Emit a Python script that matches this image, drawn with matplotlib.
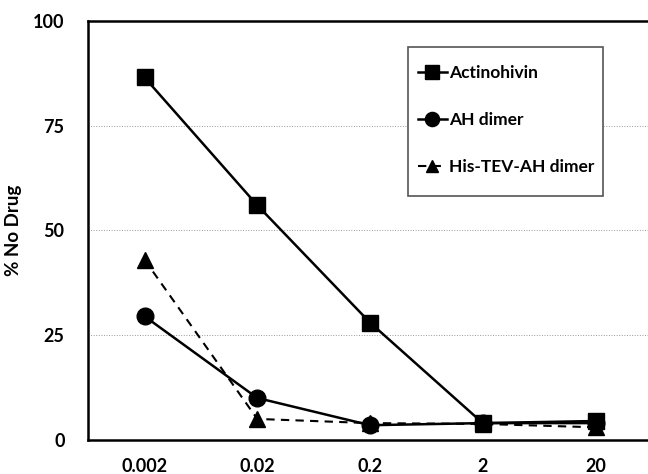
import matplotlib
matplotlib.use('Agg')
import matplotlib.pyplot as plt
from matplotlib.patches import Rectangle

plt.rcParams['font.family'] = ['Lato', 'DejaVu Sans']
plt.rcParams['font.weight'] = 'bold'

concs = ['0.002', '0.02', '0.2', '2', '20']
actinohivin = [86.5, 56, 28, 4, 4.5]
ah_dimer = [29.5, 10, 3.5, 4, 4]
his_tev = [43, 5, 4, 3.8, 3]

fig = plt.figure(figsize=(6.48, 4.74), dpi=100)
ax = fig.add_axes([0.136, 0.072, 0.87, 0.884])

x = list(range(len(concs)))
ax.plot(x, actinohivin, color='black', lw=1.8, marker='s', ms=12,
        label='Actinohivin', zorder=3)
ax.plot(x, ah_dimer, color='black', lw=1.8, marker='o', ms=12,
        label='AH dimer', zorder=3)
ax.plot(x, his_tev, color='black', lw=1.5, ls=(0, (4, 3)), marker='^', ms=11,
        label='His-TEV-AH dimer', zorder=3)

ax.set_xlim(-0.5, 4.5)
ax.set_ylim(0, 100)
ax.set_xticks(x)
ax.set_xticklabels(concs)
ax.set_yticks([0, 25, 50, 75, 100])
ax.tick_params(axis='both', length=0, labelsize=13)
ax.tick_params(axis='x', pad=13)
ax.tick_params(axis='y', pad=17)
ax.yaxis.grid(True, color='#999999', lw=0.7, ls=':')
ax.set_axisbelow(True)

for s in ['left', 'top', 'bottom']:
    ax.spines[s].set_linewidth(1.8)
ax.spines['right'].set_visible(False)

ax.set_ylabel('% No Drug', fontsize=13.5, fontweight='bold')
ax.yaxis.set_label_coords(-0.117, 0.5)

# legend box drawn separately so the padding can be set freely
ax.add_patch(Rectangle((0.567, 0.582), 0.346, 0.356, transform=ax.transAxes,
                       facecolor='white', edgecolor='#555555', lw=1.2, zorder=4))
leg = ax.legend(loc='upper left', bbox_to_anchor=(0.572, 0.912), fontsize=12.5,
                frameon=False, handlelength=1.7, handletextpad=0.1,
                labelspacing=1.8, borderpad=0.4, markerscale=0.85,
                borderaxespad=0)
leg.set_zorder(5)

plt.savefig('out.png', dpi=100)
